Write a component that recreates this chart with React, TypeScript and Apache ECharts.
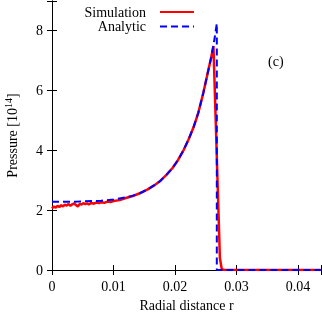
import React, { useEffect, useRef } from "react";
import * as echarts from "echarts";

const simR = [0, 0.0003, 0.0006, 0.0009, 0.0012, 0.0015, 0.0018, 0.0021, 0.0024, 0.0027, 0.003, 0.0033, 0.0036, 0.0039, 0.0042, 0.0045, 0.0048, 0.0051, 0.0054, 0.0057, 0.006, 0.0064, 0.0068, 0.0072, 0.0076, 0.008, 0.0085, 0.009, 0.0095, 0.010, 0.011, 0.012, 0.013, 0.0143, 0.0155, 0.0166, 0.0176, 0.0186, 0.0196, 0.0205, 0.0214, 0.0222, 0.023, 0.0238, 0.0246, 0.0253, 0.0259, 0.02625, 0.0273, 0.0276, 0.028, 0.0437];
const simP = [2.05, 2.12, 2.08, 2.14, 2.1, 2.16, 2.12, 2.18, 2.15, 2.2, 2.14, 2.19, 2.22, 2.17, 2.12, 2.2, 2.18, 2.23, 2.2, 2.22, 2.19, 2.24, 2.21, 2.25, 2.23, 2.26, 2.24, 2.28, 2.27, 2.3, 2.33, 2.4, 2.46, 2.56, 2.68, 2.82, 2.97, 3.17, 3.4, 3.67, 4.0, 4.35, 4.75, 5.25, 5.9, 6.55, 7.1, 7.47, 0.4, 0.03, 0, 0];

const anaR = [0, 0.004, 0.008, 0.010, 0.012, 0.0132, 0.0143, 0.0155, 0.0166, 0.0176, 0.0186, 0.0196, 0.0205, 0.0214, 0.0222, 0.023, 0.0238, 0.0246, 0.0253, 0.0259, 0.0263, 0.0266, 0.0268, 0.0268, 0.0437];
const anaP = [2.28, 2.28, 2.31, 2.35, 2.42, 2.48, 2.56, 2.68, 2.82, 2.97, 3.17, 3.4, 3.67, 4.0, 4.35, 4.75, 5.25, 5.9, 6.55, 7.1, 7.55, 7.95, 8.22, 0, 0];

const xTicks = [0, 0.01, 0.02, 0.03, 0.04];
const yTicks = [0, 2, 4, 6, 8];

const X_MAX = 0.04374;
const Y_MAX = 8.97;
const FONT = "Liberation Serif";

export default function App() {
  const ref = useRef<HTMLDivElement>(null);
  useEffect(() => {
    if (!ref.current) return;
    const chart = echarts.init(ref.current, null, { renderer: "svg" });
    const axisLine = { show: true, lineStyle: { color: "#000", width: 1 } };
    const tick = { show: true, inside: true, length: 5, lineStyle: { color: "#000" } };
    const xFmt = (v: number) => {
      const hit = xTicks.find((t) => Math.abs(t - v) < 1e-9);
      return hit === undefined ? "" : String(hit);
    };
    const yFmt = (v: number) => {
      const hit = yTicks.find((t) => Math.abs(t - v) < 1e-9);
      return hit === undefined ? "" : String(hit);
    };
    const labelStyle = { color: "#000", fontFamily: FONT, fontSize: 14 };
    chart.setOption({
      animation: false,
      grid: { left: 52, right: 1, top: 1, bottom: 43, outerBoundsMode: "none", containLabel: false },
      legend: {
        right: 122,
        top: 0,
        orient: "vertical",
        align: "right",
        itemWidth: 34,
        itemHeight: 14,
        itemGap: 0.5,
        itemStyle: { opacity: 0 },
        textStyle: { ...labelStyle, padding: [0, 9, 0, 0] },
        data: ["Simulation", "Analytic"],
      },
      xAxis: [
        {
          type: "value",
          min: 0,
          max: X_MAX,
          interval: 0.01,
          position: "bottom",
          axisLine,
          axisTick: tick,
          splitLine: { show: false },
          axisLabel: { ...labelStyle, margin: 9, formatter: xFmt },
          name: "Radial distance r",
          nameLocation: "middle",
          nameGap: 28,
          nameTextStyle: labelStyle,
        },
        {
          type: "value",
          min: 0,
          max: X_MAX,
          interval: 0.01,
          position: "top",
          axisLine,
          axisTick: tick,
          splitLine: { show: false },
          axisLabel: { show: false },
        },
      ],
      yAxis: [
        {
          type: "value",
          min: 0,
          max: Y_MAX,
          interval: 2,
          position: "left",
          axisLine,
          axisTick: tick,
          splitLine: { show: false },
          axisLabel: { ...labelStyle, margin: 9, formatter: yFmt },
          name: "Pressure [10{sup|14}]",
          nameLocation: "middle",
          nameGap: 31,
          nameTextStyle: {
            ...labelStyle,
            rich: {
              sup: { fontFamily: FONT, fontSize: 10, color: "#000", padding: [0, 0, 8, 0] },
            },
          },
        },
        {
          type: "value",
          min: 0,
          max: Y_MAX,
          interval: 2,
          position: "right",
          axisLine,
          axisTick: tick,
          splitLine: { show: false },
          axisLabel: { show: false },
        },
      ],
      graphic: [
        {
          type: "text",
          left: 268,
          top: 54,
          style: { text: "(c)", fill: "#000", font: `14px "${FONT}"` },
        },
      ],
      series: [
        {
          name: "Simulation",
          type: "line",
          symbol: "none",
          data: simR.map((r, i) => [r, simP[i]]),
          lineStyle: { color: "#ff0000", width: 2.5 },
          itemStyle: { color: "#ff0000" },
          z: 2,
        },
        {
          name: "Analytic",
          type: "line",
          symbol: "none",
          data: anaR.map((r, i) => [r, anaP[i]]),
          lineStyle: { color: "#0000ff", width: 2, type: [7, 4] },
          itemStyle: { color: "#0000ff" },
          z: 3,
        },
      ],
    });
    return () => chart.dispose();
  }, []);
  return (
    <div
      ref={ref}
      style={{ position: "fixed", left: 0, top: 0, width: 322, height: 313 }}
    />
  );
}
